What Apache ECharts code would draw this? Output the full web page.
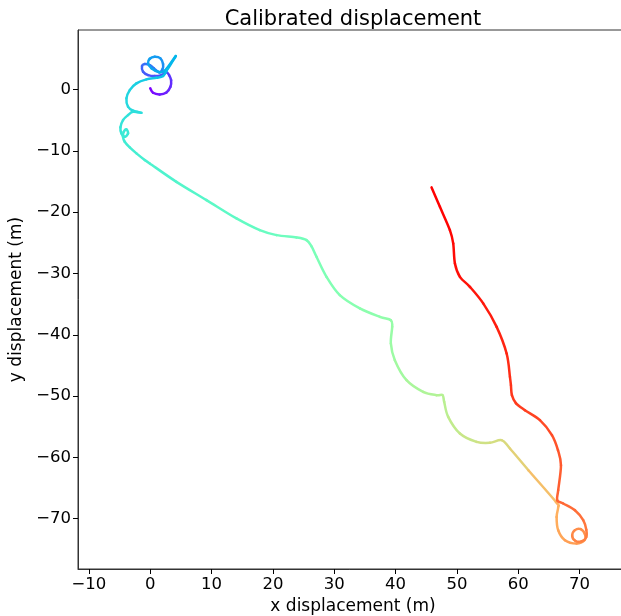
<!DOCTYPE html>
<html>
<head>
<meta charset="utf-8">
<script src="https://cdn.jsdelivr.net/npm/echarts@6/dist/echarts.min.js"></script>
<style>
  html, body { margin: 0; padding: 0; background: #fff; overflow: hidden; }
  #chart { width: 621px; height: 616px; }
</style>
</head>
<body>
<div id="chart"></div>
<script>
// Trajectory samples: x / y displacement in metres and normalised time (0 = start, 1 = end)
const pathX = [
  0.0, 0.46, 1.55, 2.64, 3.29, 3.4, 3.07, 2.64, 1.83, 0.73, -0.36, -1.17, -1.34, -0.9, -0.08, 0.62, 1.44,
  1.99, 2.09, 1.66, 0.73, -0.08, -0.36, 0.2, 1.27, 2.37, 4.16,
  2.9, 2.09, 1.0, -0.62, -2.25, -3.34, -3.88, -3.62, -2.8, -1.44, -2.8, -3.62, -4.44, -4.86,
  -4.7, -4.16, -3.62, -3.88, -4.32, -4.44, -4.16, -3.34, -2.25, -0.9, -0.08,
  4.27, 9.17, 14.06, 17.86, 20.59, 23.85, 25.48, 26.3, 27.11, 28.74, 30.91, 34.18, 37.44, 39.23,
  39.45, 39.23, 39.88, 41.79, 44.5, 46.69, 47.66, 47.93, 48.58, 50.49, 53.21, 55.38, 57.29, 58.65,
  61.66, 66.15, 66.52, 66.26, 66.52, 67.62, 69.52, 70.8, 70.9, 70.2, 69.2, 68.8, 69.3, 70.3, 71.1,
  71.1, 70.6, 69.25, 67.34, 66.36, 66.52, 66.97, 66.48, 65.5, 63.54, 61.09, 59.62, 58.97, 58.81,
  58.65, 58.11, 56.48, 54.29, 52.12, 50.49, 49.68, 49.4, 48.86, 47.23, 45.87
];
const pathY = [
  0.2, -0.54, -0.8, -0.48, 0.44, 1.53, 2.35, 2.79, 2.35, 2.19, 2.35, 2.89, 3.82, 4.14, 3.98, 3.44, 2.79,
  3.28, 4.14, 5.07, 5.33, 5.01, 4.26, 3.44, 2.89, 3.05, 5.45,
  3.44, 2.19, 1.9, 1.65, 0.99, -0.1, -1.45, -2.82, -3.47, -3.8, -3.64, -4.18, -4.99, -6.18,
  -7.16, -7.72, -7.16, -6.51, -6.9, -7.72, -8.53, -9.45, -10.42, -11.5, -12.06,
  -15.06, -18.04, -21.03, -22.94, -23.75, -24.13, -24.57, -25.6, -27.29, -30.55, -33.54, -35.71, -37.08, -37.62,
  -38.71, -41.42, -44.14, -47.41, -49.31, -49.85, -49.85, -50.95, -53.39, -56.1, -57.47, -57.63, -57.19, -58.55,
  -62.09, -67.26, -68.07, -69.7, -71.88, -73.51, -74.05, -73.5, -72.6, -71.7, -71.9, -72.8, -73.6, -73.7, -73.0,
  -71.8, -70.24, -68.61, -67.52, -66.98, -65.35, -61.27, -58.83, -56.38, -53.93, -52.3, -51.15, -49.85, -48.23,
  -46.87, -43.05, -38.71, -34.89, -32.19, -30.55, -28.37, -25.1, -22.94, -19.14, -15.97
];
const pathT = [
  0.0, 0.01, 0.025, 0.04, 0.05, 0.06, 0.07, 0.08, 0.09, 0.1, 0.11, 0.12, 0.13, 0.14, 0.15, 0.16, 0.17,
  0.18, 0.19, 0.2, 0.21, 0.215, 0.22, 0.225, 0.23, 0.24, 0.25,
  0.26, 0.27, 0.28, 0.29, 0.3, 0.31, 0.32, 0.325, 0.33, 0.335, 0.34, 0.345, 0.35, 0.355,
  0.36, 0.362, 0.364, 0.366, 0.368, 0.37, 0.375, 0.38, 0.385, 0.39, 0.395,
  0.41, 0.425, 0.44, 0.45, 0.46, 0.47, 0.48, 0.485, 0.49, 0.5, 0.51, 0.52, 0.53, 0.54,
  0.545, 0.55, 0.56, 0.575, 0.59, 0.6, 0.605, 0.61, 0.62, 0.635, 0.65, 0.66, 0.67, 0.68,
  0.71, 0.75, 0.755, 0.76, 0.77, 0.78, 0.79, 0.8, 0.805, 0.81, 0.815, 0.82, 0.825, 0.83, 0.835,
  0.84, 0.85, 0.86, 0.865, 0.87, 0.875, 0.885, 0.89, 0.9, 0.91, 0.92, 0.925, 0.93, 0.935,
  0.94, 0.95, 0.96, 0.97, 0.975, 0.98, 0.985, 0.99, 0.993, 0.997, 1.0
];

// Axis ranges (metres); tick labels fall on multiples of 10
const xRange = [-11.78, 77.9];
const yRange = [-78.2, 9.7];

// Matplotlib-style "rainbow" colormap
function rainbow(t) {
  const r = Math.min(1, Math.abs(2 * t - 0.5));
  const g = Math.max(0, Math.sin(Math.PI * t));
  const b = Math.max(0, Math.cos(Math.PI * t / 2));
  const h = v => Math.round(v * 255);
  return 'rgb(' + h(r) + ',' + h(g) + ',' + h(b) + ')';
}

// One item per segment between consecutive samples: [segment index]
const segmentIndex = pathX.slice(0, -1).map((_, i) => [i]);

// Each segment is drawn as a Catmull-Rom curve piece, so the track reads as one smooth line
function renderSegment(params, api) {
  const n = pathX.length;
  const i = api.value(0);
  const pt = k => api.coord([pathX[Math.max(0, Math.min(n - 1, k))], pathY[Math.max(0, Math.min(n - 1, k))]]);
  const p0 = pt(i - 1), p1 = pt(i), p2 = pt(i + 1), p3 = pt(i + 2);
  return {
    type: 'bezierCurve',
    shape: {
      x1: p1[0], y1: p1[1], x2: p2[0], y2: p2[1],
      cpx1: p1[0] + (p2[0] - p0[0]) / 6, cpy1: p1[1] + (p2[1] - p0[1]) / 6,
      cpx2: p2[0] - (p3[0] - p1[0]) / 6, cpy2: p2[1] - (p3[1] - p1[1]) / 6
    },
    style: {
      stroke: rainbow((pathT[i] + pathT[i + 1]) / 2),
      fill: null,
      lineWidth: 2.5,
      lineCap: 'round',
      lineJoin: 'round'
    },
    silent: true
  };
}

const FONT = 'DejaVu Sans';
const tickFmt = v => (Math.abs(v % 10) < 1e-6 ? String(Math.round(v)).replace('-', '\u2212') : '');

// Plot box; its right edge runs just past the canvas
const GRID = { left: 78, top: 30, width: 550, height: 539 };

const chart = echarts.init(document.getElementById('chart'), null, { renderer: 'canvas' });
chart.setOption({
  animation: false,
  backgroundColor: '#fff',
  title: {
    text: 'Calibrated displacement',
    left: GRID.left + GRID.width / 2 - 5,
    textAlign: 'center',
    top: 4,
    textStyle: { fontFamily: FONT, fontSize: 21, fontWeight: 'normal', color: '#000' }
  },
  grid: Object.assign({
    show: true, borderColor: '#333', borderWidth: 1, backgroundColor: 'transparent',
    containLabel: false, outerBoundsMode: 'none'
  }, GRID),
  xAxis: {
    type: 'value',
    min: xRange[0], max: xRange[1],
    splitNumber: 9,
    name: 'x displacement (m)',
    nameLocation: 'middle',
    nameGap: 26,
    nameTextStyle: { fontFamily: FONT, fontSize: 17, color: '#000' },
    axisLine: { show: true, onZero: false, lineStyle: { color: '#333', width: 1 } },
    axisTick: { show: true, inside: false, length: 5, lineStyle: { color: '#000' } },
    axisLabel: {
      margin: 7, fontFamily: FONT, fontSize: 16.5, color: '#000',
      showMinLabel: false, showMaxLabel: false, formatter: tickFmt
    },
    splitLine: { show: false }
  },
  yAxis: {
    type: 'value',
    min: yRange[0], max: yRange[1],
    splitNumber: 9,
    name: 'y displacement (m)',
    nameLocation: 'middle',
    nameGap: 45,
    nameTextStyle: { fontFamily: FONT, fontSize: 17, color: '#000' },
    axisLine: { show: true, onZero: false, lineStyle: { color: '#333', width: 1 } },
    axisTick: { show: true, inside: false, length: 5, lineStyle: { color: '#000' } },
    axisLabel: {
      margin: 7, fontFamily: FONT, fontSize: 16.5, color: '#000',
      showMinLabel: false, showMaxLabel: false, formatter: tickFmt
    },
    splitLine: { show: false }
  },
  series: [{
    type: 'custom',
    coordinateSystem: 'cartesian2d',
    renderItem: renderSegment,
    clip: true,
    data: segmentIndex
  }]
});
</script>
</body>
</html>
